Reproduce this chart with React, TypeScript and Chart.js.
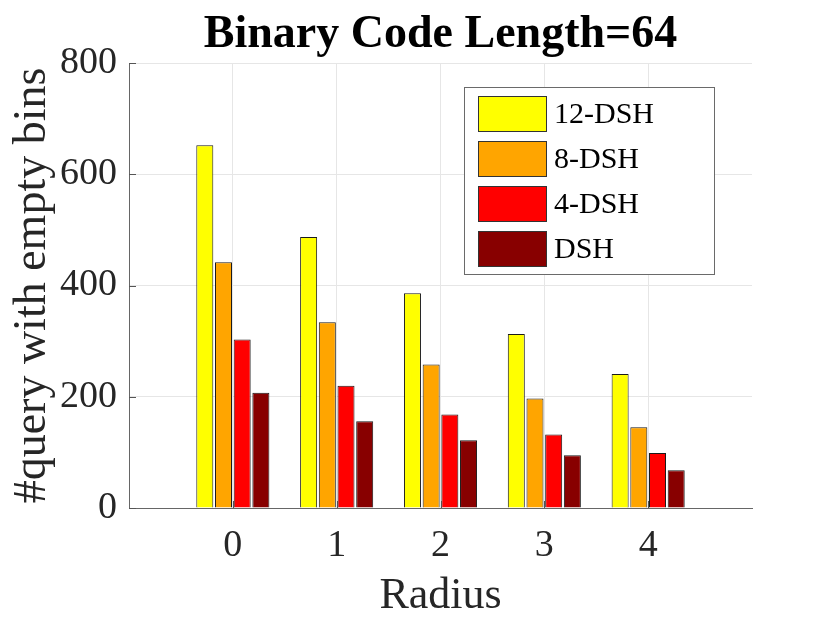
import React, { useEffect, useRef } from "react";
import { Chart, registerables } from "chart.js";

Chart.register(...registerables);

// ---- data ----
const categories = ["0", "1", "2", "3", "4"];
const dsh12 = [652, 487, 386, 313, 241];
const dsh8 = [442, 334, 258, 197, 145];
const dsh4 = [303, 220, 168, 132, 99];
const dsh1 = [207, 156, 122, 95, 68];
const seriesLabels = ["12-DSH", "8-DSH", "4-DSH", "DSH"];
const seriesColors = ["#FFFF00", "#FFA500", "#FF0000", "#880000"];
const yMin = 0;
const yMax = 800;
const yStep = 200;
const titleText = "Binary Code Length=64";
const xTitle = "Radius";
const yTitle = "#query with empty bins";

const FONT = '"Liberation Serif", "Times New Roman", serif';

// pad categories with an empty slot on each side (axis spans -1..5)
const paddedLabels = ["", ...categories, ""];
const pad = (arr: number[]) => [null, ...arr, null];

const overlayPlugin = {
  id: "overlay",
  afterDatasetsDraw(chart: any) {
    // MATLAB-style inward tick marks
    const { ctx, chartArea: ca, scales } = chart;
    ctx.save();
    ctx.strokeStyle = "#555555";
    ctx.lineWidth = 1;
    ctx.beginPath();
    scales.y.ticks.forEach((t: any) => {
      const py = Math.round(scales.y.getPixelForValue(t.value)) + 0.5;
      ctx.moveTo(ca.left, py);
      ctx.lineTo(ca.left + 7, py);
    });
    scales.x.ticks.forEach((t: any, i: number) => {
      if (i === 0 || i === paddedLabels.length - 1) return;
      const px = Math.round(scales.x.getPixelForTick(i)) + 0.5;
      ctx.moveTo(px, ca.bottom);
      ctx.lineTo(px, ca.bottom - 7);
    });
    ctx.stroke();
    ctx.restore();
  },
  afterDraw(chart: any) {
    const { ctx, chartArea: ca } = chart;
    ctx.save();
    // title
    ctx.fillStyle = "#000000";
    ctx.font = `bold 46px ${FONT}`;
    ctx.textAlign = "center";
    ctx.textBaseline = "alphabetic";
    ctx.fillText(titleText, (ca.left + ca.right) / 2, 47);

    // legend
    const bw = 250;
    const bh = 187;
    const bx = ca.right - 288;
    const by = ca.top + 24;
    ctx.fillStyle = "#ffffff";
    ctx.fillRect(bx, by, bw, bh);
    ctx.strokeStyle = "#6a6a6a";
    ctx.lineWidth = 1;
    ctx.strokeRect(bx + 0.5, by + 0.5, bw, bh);
    const ds = chart.data.datasets;
    ctx.font = `30px ${FONT}`;
    ctx.textAlign = "left";
    ctx.textBaseline = "middle";
    ds.forEach((d: any, i: number) => {
      const sx = bx + 14;
      const sy = by + 9 + i * 45;
      ctx.fillStyle = d.backgroundColor;
      ctx.fillRect(sx, sy, 68, 35);
      ctx.strokeStyle = "#333333";
      ctx.strokeRect(sx + 0.5, sy + 0.5, 68, 35);
      ctx.fillStyle = "#000000";
      ctx.fillText(d.label, sx + 76, sy + 19);
    });
    ctx.restore();
  },
};

export default function App() {
  const ref = useRef<HTMLCanvasElement>(null);

  useEffect(() => {
    if (!ref.current) return;
    const seriesData = [dsh12, dsh8, dsh4, dsh1];
    const chart = new Chart(ref.current, {
      type: "bar",
      data: {
        labels: paddedLabels,
        datasets: seriesData.map((vals, i) => ({
          label: seriesLabels[i],
          data: pad(vals) as any,
          backgroundColor: seriesColors[i],
          borderColor: "#1a1a1a",
          borderWidth: 1,
          categoryPercentage: 0.72,
          barPercentage: 0.91,
        })),
      },
      options: {
        responsive: false,
        animation: false,
        layout: { padding: { top: 63, right: 78, left: 0, bottom: 0 } },
        plugins: {
          legend: { display: false },
          title: { display: false },
          tooltip: { enabled: false },
        },
        scales: {
          x: {
            type: "category",
            offset: false,
            grid: {
              offset: false,
              drawTicks: false,
              color: (c: any) =>
                c.index === 0 || c.index === paddedLabels.length - 1
                  ? "rgba(0,0,0,0)"
                  : "#e6e6e6",
            },
            border: { color: "#666666", width: 1 },
            ticks: {
              font: { family: FONT, size: 38 },
              color: "#262626",
              padding: 15,
              maxRotation: 0,
              autoSkip: false,
            },
            title: {
              display: true,
              text: xTitle,
              font: { family: FONT, size: 44 },
              color: "#262626",
              padding: { top: 0, bottom: 0 },
            },
            afterFit: (s: any) => {
              s.height = 115;
            },
          },
          y: {
            min: yMin,
            max: yMax,
            grid: { color: "#e6e6e6", drawTicks: false },
            border: { color: "#666666", width: 1 },
            ticks: {
              stepSize: yStep,
              font: { family: FONT, size: 38 },
              color: "#262626",
              padding: 12,
            },
            title: {
              display: true,
              text: yTitle,
              font: { family: FONT, size: 46 },
              color: "#262626",
              padding: { top: 5, bottom: 0 },
            },
            afterFit: (s: any) => {
              s.width = 129;
            },
          },
        },
      },
      plugins: [overlayPlugin],
    });
    return () => chart.destroy();
  }, []);

  return (
    <div style={{ position: "fixed", left: 0, top: 0, width: 830, height: 623, background: "#fff" }}>
      <canvas ref={ref} width={830} height={623} />
    </div>
  );
}
